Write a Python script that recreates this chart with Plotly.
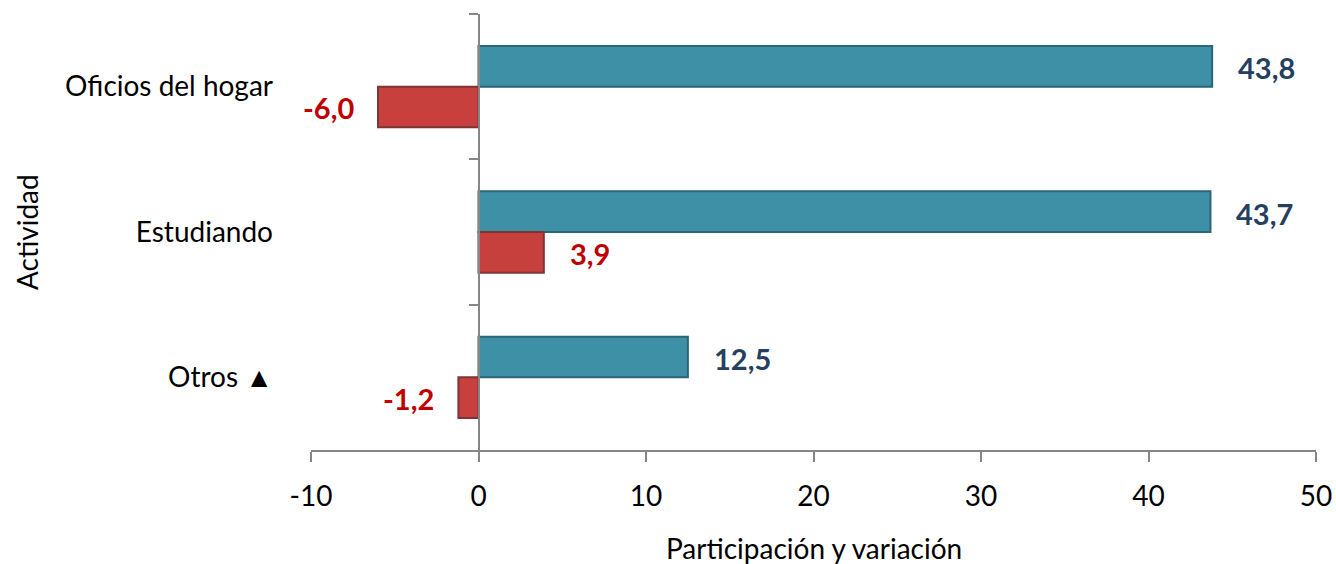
import plotly.graph_objects as go

actividades = ["Oficios del hogar", "Estudiando", "Otros ▲"]
participacion = [43.8, 43.7, 12.5]
variacion = [-6.0, 3.9, -1.2]
x_ticks = [-10, 0, 10, 20, 30, 40, 50]

FONT = "Lato"
GRIS = "#868686"
AZUL_TXT = "#243F60"
ROJO_TXT = "#C00000"


def etiqueta(v):
    return f"{v:.1f}".replace(".", ",")


fig = go.Figure()

fig.add_trace(go.Bar(
    y=actividades, x=participacion, orientation="h", name="Participación",
    marker=dict(color="#3E90A7", line=dict(color="#2A6678", width=2)),
    hoverinfo="x+y",
))
fig.add_trace(go.Bar(
    y=actividades, x=variacion, orientation="h", name="Variación",
    marker=dict(color="#C7403E", line=dict(color="#7E3434", width=2)),
    hoverinfo="x+y",
))

# linea del eje de categorias cruzando en x = 0
fig.add_trace(go.Scatter(
    y=actividades, x=[0] * len(actividades), yaxis="y2", mode="markers",
    marker=dict(opacity=0), hoverinfo="skip", showlegend=False,
))

# etiquetas de datos
for serie, color, dy in [(participacion, AZUL_TXT, 19), (variacion, ROJO_TXT, -21)]:
    for cat, v in zip(actividades, serie):
        fig.add_annotation(
            x=v, y=cat, text=etiqueta(v), showarrow=False,
            xanchor="left" if v >= 0 else "right",
            xshift=24 if v >= 0 else -22, yshift=dy,
            font=dict(family=FONT, size=29, color=color, weight="bold"),
        )

# titulos de ejes
fig.add_annotation(
    x=0.5, y=0, xref="paper", yref="paper", yshift=-98,
    text="Participación y variación", showarrow=False,
    xanchor="center", yanchor="middle", font=dict(family=FONT, size=28),
)
fig.add_annotation(
    x=-0.2826, y=0.5, xref="paper", yref="paper", textangle=-90,
    text="Actividad", showarrow=False,
    xanchor="center", yanchor="middle", font=dict(family=FONT, size=28),
)

fig.update_layout(
    width=1336, height=564,
    margin=dict(l=311, r=20, t=14, b=114),
    paper_bgcolor="white", plot_bgcolor="white",
    barmode="group", bargap=0.44, bargroupgap=0,
    showlegend=False,
    font=dict(family=FONT, size=28, color="#000000"),
    xaxis=dict(
        range=[-10, 50], tickvals=x_ticks, ticktext=[str(t) for t in x_ticks],
        showgrid=False, zeroline=False, automargin=False,
        showline=True, linecolor=GRIS, linewidth=2,
        ticks="outside", ticklen=10, tickwidth=2, tickcolor=GRIS,
        ticklabelstandoff=10,
    ),
    yaxis=dict(
        type="category", range=[2.5, -0.5], showgrid=False, zeroline=False,
        showline=False, ticks="", ticklabelstandoff=37, automargin=False,
    ),
    yaxis2=dict(
        type="category", range=[2.5, -0.5], overlaying="y", anchor="free",
        position=1 / 6, side="left", showgrid=False, zeroline=False,
        showline=True, linecolor=GRIS, linewidth=2, automargin=False,
        ticks="outside", ticklen=9, tickwidth=2, tickcolor=GRIS,
        tickson="boundaries", showticklabels=False,
    ),
)

# sin el margen por defecto de la pagina
fig.write_html(
    "out.html",
    config={"displayModeBar": False},
    post_script="document.body.style.margin = '0';",
)
